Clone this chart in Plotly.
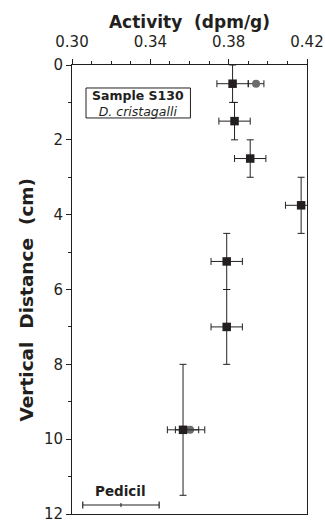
import plotly.graph_objects as go

# ---- data ----
activity = [0.382, 0.383, 0.391, 0.417, 0.379, 0.379, 0.3567]
depth = [0.5, 1.5, 2.5, 3.75, 5.25, 7.0, 9.75]
activity_err = [0.008, 0.008, 0.008, 0.008, 0.008, 0.008, 0.008]
depth_err = [0.5, 0.5, 0.5, 0.75, 0.75, 1.0, 1.75]

alt_activity = [0.394, 0.3603]
alt_depth = [0.5, 9.75]
alt_err = [0.004, 0.0075]

pedicil_center = [0.325]
pedicil_depth = [11.76]
pedicil_half = [0.0195]

x_ticks = [0.30, 0.34, 0.38, 0.42]
x_ticklabels = ["0.30", "0.34", "0.38", "0.42"]
y_ticks = [0, 2, 4, 6, 8, 10, 12]

FONT = "DejaVu Sans"
INK = "#231f20"

fig = go.Figure()

# gray circles (behind)
fig.add_trace(go.Scatter(
    x=alt_activity, y=alt_depth, mode="markers",
    marker=dict(symbol="circle", size=8, color="#6b6b6b"),
    error_x=dict(type="data", array=alt_err, visible=True, color="#222", thickness=1, width=3.5),
    showlegend=False, hoverinfo="skip"))

# black squares
fig.add_trace(go.Scatter(
    x=activity, y=depth, mode="markers",
    marker=dict(symbol="square", size=8.5, color=INK),
    error_x=dict(type="data", array=activity_err, visible=True, color="#222", thickness=1, width=3.5),
    error_y=dict(type="data", array=depth_err, visible=True, color="#222", thickness=1, width=3.5),
    showlegend=False, hoverinfo="skip"))

# pedicil scale bar
fig.add_trace(go.Scatter(
    x=pedicil_center, y=pedicil_depth, mode="markers",
    marker=dict(symbol="line-ns", size=3, color="#222", line=dict(color="#222", width=1)),
    error_x=dict(type="data", array=pedicil_half, visible=True, color="#222", thickness=1.2, width=3.5),
    showlegend=False, hoverinfo="skip"))

fig.add_annotation(x=pedicil_center[0], y=pedicil_depth[0], xref="x", yref="y",
                   text="<b>Pedicil</b>", showarrow=False, xanchor="center", yanchor="bottom", yshift=4,
                   font=dict(family=FONT, size=13.5, color=INK))

# sample box
fig.add_shape(type="rect", xref="paper", yref="paper", x0=0.0596, x1=0.504, y0=0.882, y1=0.9488,
              line=dict(color=INK, width=1), fillcolor="white", layer="above")
fig.add_annotation(x=0.281, y=0.9145, xref="paper", yref="paper",
                   text="<b>Sample S130</b><br><i>D. cristagalli</i>",
                   showarrow=False, xanchor="center", yanchor="middle", align="center",
                   font=dict(family=FONT, size=12.5, color=INK))

# y-axis title
fig.add_annotation(x=-0.1936, y=0.4766, xref="paper", yref="paper", text="<b>Vertical  Distance  (cm)</b>",
                   textangle=-90, showarrow=False, xanchor="center", yanchor="middle",
                   font=dict(family=FONT, size=18.5, color=INK))

fig.update_layout(
    width=325, height=523,
    margin=dict(l=72, r=18, t=65, b=9, autoexpand=False),
    paper_bgcolor="white", plot_bgcolor="white",
    font=dict(family=FONT, color=INK),
    xaxis=dict(
        side="top", range=[0.30, 0.42], tickvals=x_ticks, ticktext=x_ticklabels,
        ticks="outside", ticklen=5, tickwidth=1, tickcolor=INK,
        minor=dict(dtick=0.01, tick0=0.30, ticks="outside", ticklen=3, tickcolor=INK),
        showline=True, linecolor=INK, linewidth=1, mirror=True,
        showgrid=False, zeroline=False, automargin=False,
        tickfont=dict(family=FONT, size=15, color=INK),
        ticklabelstandoff=6,
        title=dict(text="<b>Activity  (dpm/g)</b>", font=dict(family=FONT, size=17, color=INK), standoff=0),
    ),
    yaxis=dict(
        range=[12, 0], tickvals=y_ticks,
        ticks="outside", ticklen=5, tickwidth=1, tickcolor=INK,
        minor=dict(dtick=1, tick0=0, ticks="outside", ticklen=3, tickcolor=INK),
        showline=True, linecolor=INK, linewidth=1, mirror=True,
        showgrid=False, zeroline=False, automargin=False,
        tickfont=dict(family=FONT, size=15, color=INK),
        ticklabeloverflow="allow",
    ),
)

fig.write_html("out.html")
